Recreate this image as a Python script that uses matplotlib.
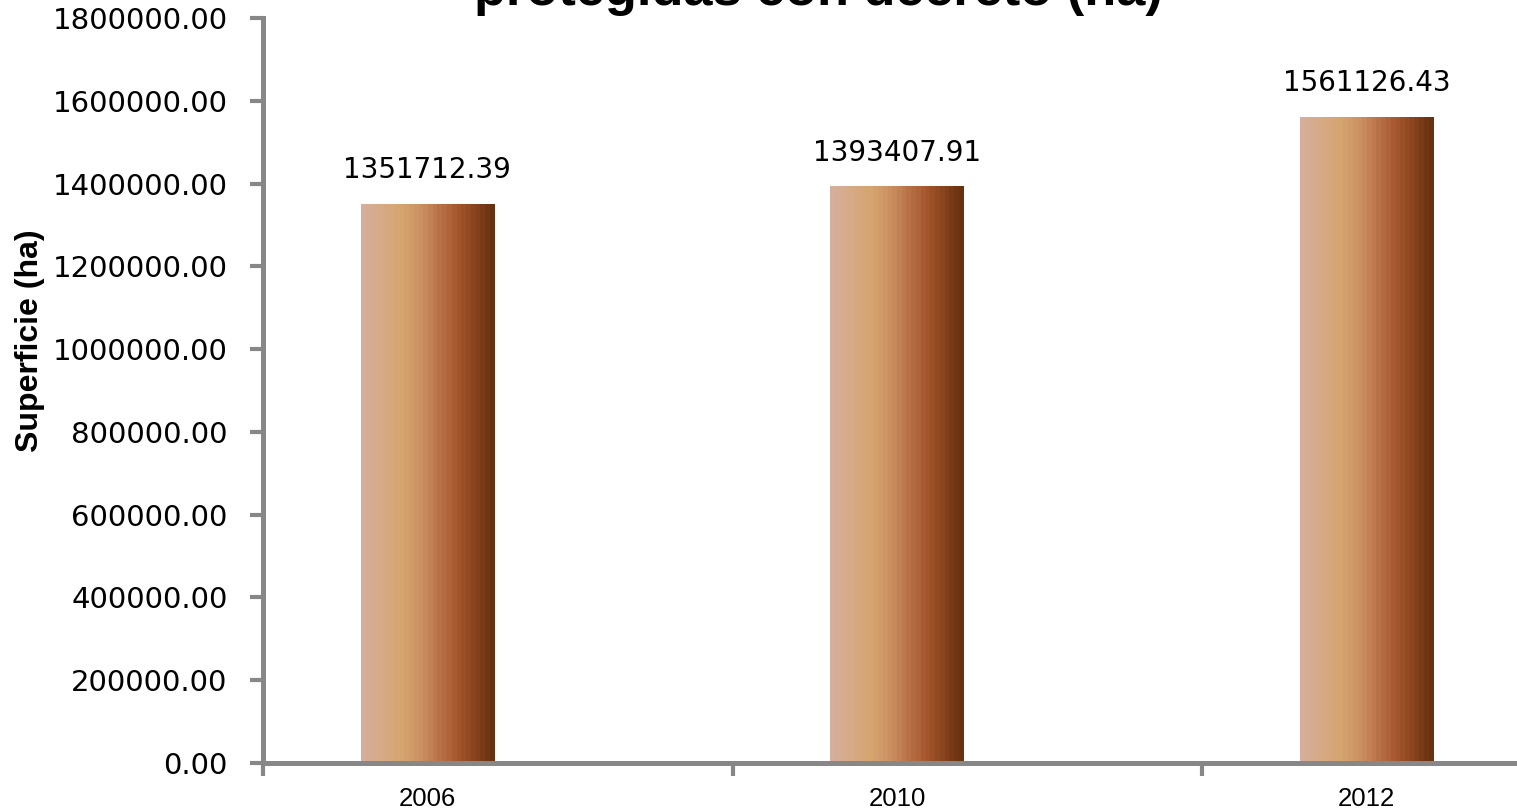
import numpy as np
import matplotlib
matplotlib.use("Agg")
import matplotlib.pyplot as plt
from matplotlib.colors import LinearSegmentedColormap

# data
years = ["2006", "2010", "2012"]
superficie = [1351712.39, 1393407.91, 1561126.43]
yticks = np.arange(0, 1800001, 200000)

W, H = 1517, 809
fig = plt.figure(figsize=(W / 100, H / 100), dpi=100)
ax = fig.add_axes([263 / W, (H - 763) / H, (W - 263) / W, (763 - 18) / H])

# banded brown gradient like the original
grad_cmap = LinearSegmentedColormap.from_list(
    "brown",
    [(0.0, "#D5AF9B"), (0.3, "#D6A56F"), (0.45, "#CB9061"),
     (0.62, "#B56C42"), (0.75, "#A2532A"), (1.0, "#68310F")],
    N=28,
)
gradient = np.linspace(0, 1, 256).reshape(1, -1)

x = np.arange(len(years))
bars = ax.bar(x, superficie, width=0.284, facecolor="none", edgecolor="none", zorder=2)
for b in bars:
    im = ax.imshow(gradient, extent=[b.get_x(), b.get_x() + b.get_width(), 0, b.get_height()],
                   aspect="auto", cmap=grad_cmap, zorder=2, interpolation="nearest")
    im.set_clip_path(b)

for xi, v in zip(x, superficie):
    ax.annotate(f"{v:.2f}", (xi, v), xytext=(0, 14), textcoords="offset points",
                ha="center", va="bottom", fontsize=20, family="DejaVu Sans")

ax.set_xlim(-0.35, 2.32)
ax.set_ylim(0, 1800000)

grey = "#878787"
for s in ["top", "right"]:
    ax.spines[s].set_visible(False)
for s in ["left", "bottom"]:
    ax.spines[s].set_color(grey)
    ax.spines[s].set_linewidth(3.6)

ax.set_yticks(yticks)
ax.set_yticklabels([f"{t:.2f}" for t in yticks], fontsize=21, family="DejaVu Sans")
ax.tick_params(axis="y", direction="out", length=9.5, width=3, color=grey, pad=16)

# category ticks sit between the bars, labels under the bars
ax.set_xticks([-0.35, 0.65, 1.65])
ax.set_xticklabels([])
ax.tick_params(axis="x", which="major", direction="out", length=9, width=3, color=grey)
ax.set_xticks(x, minor=True)
ax.set_xticklabels(years, minor=True, fontsize=18.5, family="Liberation Sans")
ax.tick_params(axis="x", which="minor", length=0, pad=17)

fig.text(818 / W, 1 - 4.5 / H, "protegidas con decreto (ha)", ha="center", va="baseline",
         fontsize=37.7, fontweight="bold", family="Liberation Sans")
fig.text(30 / W, 1 - 341 / H, "Superficie (ha)", rotation=90, ha="center", va="center",
         fontsize=23, fontweight="bold", family="Liberation Sans")

fig.savefig("out.png", dpi=100)
